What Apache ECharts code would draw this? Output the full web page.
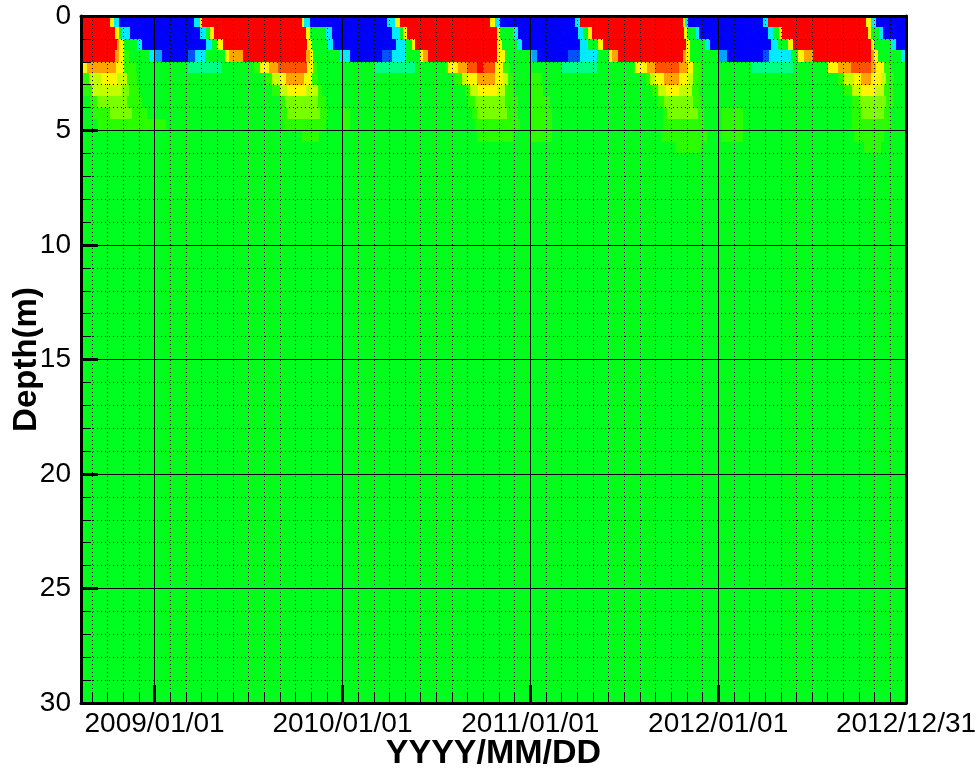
<!DOCTYPE html>
<html>
<head>
<meta charset="utf-8">
<script src="https://cdn.jsdelivr.net/npm/echarts@6/dist/echarts.min.js"></script>
<style>html,body{margin:0;padding:0;background:#fff}#c{width:978px;height:770px}</style>
</head>
<body>
<div id="c"></div>
<script>
// x values: days since 2009-01-01; y values: depth (m); cell value on a 0..100 colour scale
const xMin = -143, xMax = 1460;
const yearTickDays = [0, 365, 730, 1095, 1460];
const yearTickLabels = ['2009/01/01', '2010/01/01', '2011/01/01', '2012/01/01', '2012/12/31'];
const depthTickLabels = [0, 5, 10, 15, 20, 25, 30];
const depthEdges = [0, 0.5, 1, 1.5, 2, 2.5, 3, 3.5, 4, 4.5, 5, 5.5, 6, 30];

// each row: [startDay, value] segments, a segment lasts until the next start
const row0 = [[-143,100],[-86,76],[-78,23],[-69,0],[77,23],[89,76],[93,100],[286,76],[291,23],[301,0],[451,23],[467,76],[476,100],[651,76],[661,23],[671,0],[817,23],[827,100],[1026,76],[1030,23],[1037,0],[1182,23],[1191,100],[1382,76],[1392,23],[1402,0]];
const row1 = [[-143,100],[-76,76],[-69,47],[-63,23],[-47,0],[89,23],[99,47],[108,76],[116,100],[295,76],[301,47],[334,23],[344,0],[461,23],[476,47],[482,76],[490,100],[665,76],[671,47],[696,23],[706,0],[823,23],[833,47],[842,76],[850,100],[1028,76],[1034,47],[1051,23],[1057,0],[1191,23],[1201,47],[1213,76],[1220,100],[1386,76],[1392,47],[1407,23],[1415,0]];
const row2 = [[-143,100],[-73,84],[-69,76],[-59,47],[-34,23],[-24,0],[99,23],[112,47],[122,76],[132,100],[297,76],[305,47],[336,23],[346,0],[470,23],[486,47],[501,76],[506,100],[665,76],[675,47],[704,23],[714,0],[827,23],[842,47],[862,76],[872,100],[1032,76],[1041,47],[1070,23],[1080,0],[1197,23],[1211,47],[1230,76],[1240,100],[1392,76],[1398,47],[1431,23],[1441,0]];
const row3 = [[-143,100],[-76,84],[-69,76],[-59,54],[-49,47],[-10,23],[1,16],[15,0],[64,8],[79,23],[97,47],[136,76],[145,84],[171,100],[295,84],[301,76],[307,47],[360,23],[379,0],[441,8],[461,23],[486,47],[515,76],[521,84],[531,100],[665,76],[681,47],[733,16],[743,0],[804,8],[827,23],[860,47],[882,76],[889,84],[901,100],[1026,84],[1032,76],[1041,47],[1096,16],[1113,0],[1182,8],[1193,23],[1236,47],[1250,76],[1261,84],[1279,100],[1392,84],[1398,76],[1406,47],[1450,23]];
const row4 = [[-143,76],[-131,84],[-75,76],[-59,54],[-37,47],[64,37],[130,47],[194,54],[204,76],[223,84],[239,92],[297,76],[307,54],[315,47],[428,37],[506,47],[564,54],[570,76],[589,84],[607,92],[626,100],[638,92],[661,76],[677,54],[691,47],[792,37],[860,47],[930,54],[934,76],[957,84],[973,92],[1018,84],[1037,76],[1047,54],[1061,47],[1158,37],[1240,47],[1308,76],[1328,84],[1353,92],[1392,84],[1402,76],[1417,54],[1431,47]];
const row5 = [[-143,54],[-127,69],[-105,76],[-73,69],[-53,54],[-34,47],[217,54],[229,69],[243,76],[256,84],[291,76],[305,54],[317,47],[583,54],[597,69],[609,76],[626,84],[661,76],[677,69],[687,54],[696,47],[730,54],[753,47],[953,54],[963,69],[973,76],[989,84],[1018,76],[1037,69],[1047,54],[1061,47],[1328,54],[1339,69],[1359,76],[1372,84],[1392,76],[1411,69],[1421,54],[1437,47]];
const row6 = [[-143,54],[-121,69],[-63,62],[-49,54],[-30,47],[229,54],[243,69],[258,76],[295,69],[317,54],[325,47],[603,54],[613,69],[628,76],[665,69],[681,54],[696,47],[730,54],[755,47],[967,54],[979,69],[993,76],[1018,69],[1045,54],[1057,47],[1339,54],[1355,69],[1372,76],[1399,69],[1417,54],[1434,47]];
const row7 = [[-143,47],[-125,54],[-111,62],[-53,54],[-24,47],[243,54],[253,62],[317,54],[334,47],[609,54],[622,62],[681,54],[706,47],[730,54],[768,47],[977,54],[989,62],[1047,54],[1061,47],[1353,54],[1368,62],[1421,54],[1434,47]];
const row8 = [[-143,47],[-121,54],[-86,62],[-43,54],[-14,47],[243,54],[258,62],[321,54],[336,47],[365,54],[379,47],[616,54],[626,62],[685,54],[706,47],[730,54],[772,47],[987,54],[996,62],[1055,54],[1067,47],[1100,54],[1143,47],[1353,54],[1372,62],[1417,54],[1431,47]];
const row9 = [[-143,47],[-111,54],[23,47],[249,54],[334,47],[365,54],[379,47],[622,54],[710,47],[730,54],[772,47],[987,54],[1067,47],[1100,54],[1143,47],[1353,54],[1431,47]];
const row10 = [[-143,47],[287,54],[320,47],[626,54],[696,47],[730,54],[772,47],[983,54],[1074,47],[1100,54],[1143,47],[1359,54],[1417,47]];
const row11 = [[-143,47],[1012,54],[1061,47],[1378,54],[1411,47]];
const row12 = [[-143,47]];

const rows = [row0,row1,row2,row3,row4,row5,row6,row7,row8,row9,row10,row11,row12];
const colorStops = ['#0000ff', '#00ffff', '#00ff00', '#ffff00', '#ff0000'];

const monthTickDays = [];
for (let k = -4; k <= 48; k++) monthTickDays.push(k * 365 / 12);

const cells = [];
rows.forEach((segs, r) => {
  segs.forEach((s, i) => {
    const end = i + 1 < segs.length ? segs[i + 1][0] : xMax;
    cells.push([s[0], end, depthEdges[r], depthEdges[r + 1], s[1]]);
  });
});

const FONT = 'Liberation Sans';
const chart = echarts.init(document.getElementById('c'));
chart.setOption({
  animation: false,
  backgroundColor: '#ffffff',
  grid: { left: 81, right: 72, top: 16, bottom: 67, containLabel: false, outerBoundsMode: 'none' },
  visualMap: {
    type: 'continuous', show: false, dimension: 4, min: 0, max: 100, seriesIndex: 0,
    inRange: { color: colorStops }
  },
  xAxis: [
    {
      type: 'value', min: xMin, max: xMax, position: 'bottom', z: 5,
      axisLine: { show: true, onZero: false, lineStyle: { color: '#000', width: 3 } },
      axisTick: { show: true, inside: true, length: 18, customValues: yearTickDays, lineStyle: { color: '#000', width: 3 } },
      axisLabel: {
        show: true, customValues: yearTickDays, margin: 7, color: '#000', fontSize: 28, fontFamily: FONT,
        formatter: v => { const i = yearTickDays.indexOf(v); return i >= 0 ? yearTickLabels[i] : ''; }
      },
      splitLine: { show: true, lineStyle: { color: '#000', width: 1, type: 'solid' } },
      name: 'YYYY/MM/DD', nameLocation: 'middle', nameGap: 34, nameMoveOverlap: false,
      nameTextStyle: { color: '#000', fontSize: 34, fontWeight: 'bold', fontFamily: FONT }
    },
    {
      type: 'value', min: xMin, max: xMax, position: 'bottom', z: 4,
      axisLine: { show: false, onZero: false },
      axisTick: { show: true, inside: true, length: 10, customValues: monthTickDays, lineStyle: { color: '#000', width: 1 } },
      axisLabel: { show: false },
      splitLine: { show: true, lineStyle: { color: '#000', width: 1, type: [1, 3] } }
    },
    {
      type: 'value', min: xMin, max: xMax, position: 'top', z: 5,
      axisLine: { show: true, onZero: false, lineStyle: { color: '#000', width: 3 } },
      axisTick: { show: false }, axisLabel: { show: false }, splitLine: { show: false }
    }
  ],
  yAxis: [
    {
      type: 'value', min: 0, max: 30, interval: 5, inverse: true, position: 'left', z: 5,
      axisLine: { show: true, onZero: false, lineStyle: { color: '#000', width: 3 } },
      axisTick: { show: true, inside: true, length: 17, lineStyle: { color: '#000', width: 3 } },
      axisLabel: {
        show: true, margin: 10, color: '#000', fontSize: 28, fontFamily: FONT,
        formatter: v => depthTickLabels.indexOf(v) >= 0 ? String(v) : ''
      },
      splitLine: { show: true, lineStyle: { color: '#000', width: 1, type: 'solid' } },
      name: 'Depth(m)', nameLocation: 'middle', nameGap: 38, nameMoveOverlap: false,
      nameTextStyle: { color: '#000', fontSize: 33, fontWeight: 'bold', fontFamily: FONT }
    },
    {
      type: 'value', min: 0, max: 30, interval: 1, inverse: true, position: 'left', z: 4,
      axisLine: { show: false, onZero: false },
      axisTick: { show: true, inside: true, length: 10, lineStyle: { color: '#000', width: 1 } },
      axisLabel: { show: false },
      splitLine: { show: true, lineStyle: { color: '#000', width: 1, type: [1, 3] } }
    },
    {
      type: 'value', min: 0, max: 30, inverse: true, position: 'right', z: 5,
      axisLine: { show: true, onZero: false, lineStyle: { color: '#000', width: 3 } },
      axisTick: { show: false }, axisLabel: { show: false }, splitLine: { show: false }
    }
  ],
  series: [{
    type: 'custom', xAxisIndex: 0, yAxisIndex: 0, z: 2, clip: true,
    dimensions: ['t0', 't1', 'd0', 'd1', 'v'],
    encode: { x: [0, 1], y: [2, 3] },
    data: cells,
    renderItem: (params, api) => {
      const a = api.coord([api.value(0), api.value(2)]);
      const b = api.coord([api.value(1), api.value(3)]);
      const x0 = Math.round(a[0]), x1 = Math.round(b[0]);
      const y0 = Math.round(a[1]), y1 = Math.round(b[1]);
      return { type: 'rect', shape: { x: x0, y: y0, width: x1 - x0, height: y1 - y0 }, style: { fill: api.visual('color') } };
    }
  }]
});
</script>
</body>
</html>
